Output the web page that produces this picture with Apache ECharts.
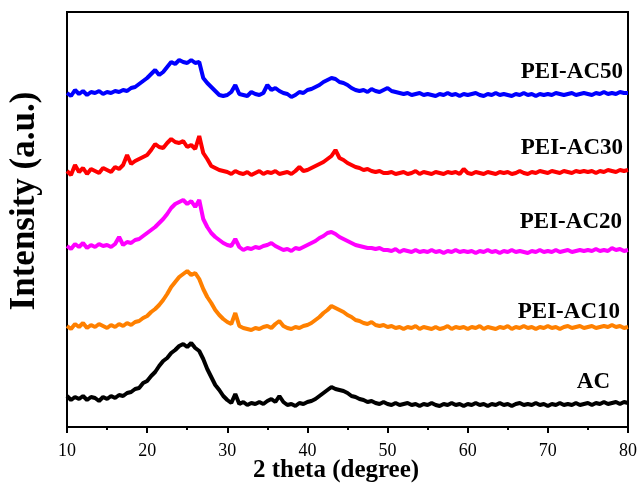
<!DOCTYPE html>
<html>
<head>
<meta charset="utf-8">
<script src="https://cdn.jsdelivr.net/npm/echarts@6/dist/echarts.min.js"></script>
<style>html,body{margin:0;padding:0;background:#fff}#c{width:640px;height:486px}</style>
</head>
<body>
<div id="c"></div>
<script>
// 2-theta sampling: start, step (degrees)
var thetaStart = 10, thetaStep = 0.5;
var xTicks = [10, 20, 30, 40, 50, 60, 70, 80];
var seriesNames = ['AC', 'PEI-AC10', 'PEI-AC20', 'PEI-AC30', 'PEI-AC50'];

var AC = [
 31,27,30,28,31,27,30,29,26,30,
 28,31,29,32,31,34,35,38,39,44,
 46,51,55,61,66,69,74,77,81,83,
 80,84,79,76,68,58,50,42,37,31,
 27,24,33,23,25,22,24,23,25,23,
 26,28,25,31,25,22,23,21,24,23,
 25,26,28,31,34,37,40,38,37,36,
 34,31,30,28,27,25,26,24,23,25,
 23,22,24,22,23,24,22,23,21,23,
 22,24,22,21,23,22,24,22,23,21,
 23,22,24,22,23,21,23,22,24,22,
 23,21,23,24,22,23,22,24,22,23,
 21,23,22,24,22,23,22,24,22,23,
 24,22,24,23,25,23,24,25,23,25,
 24];
var PEI_AC10 = [
 101,98,103,100,104,99,102,100,103,101,
 99,102,100,103,101,104,102,105,106,109,
 111,115,118,122,127,133,140,145,150,153,
 156,152,154,148,138,130,124,117,112,108,
 105,103,114,101,99,98,97,99,98,100,
 101,99,103,106,101,99,98,100,99,101,
 102,104,107,110,114,117,121,119,117,115,
 112,110,107,106,104,103,105,102,101,102,
 100,101,99,100,98,100,99,101,98,100,
 99,98,100,98,99,101,98,100,99,100,
 98,100,99,101,98,100,99,98,100,99,
 101,98,100,99,101,99,100,98,100,99,
 101,99,100,98,100,101,99,100,101,99,
 100,101,99,100,101,100,102,100,101,99,
 100];
var PEI_AC20 = [
 181,178,183,180,184,179,182,180,183,181,
 182,180,183,190,182,185,184,187,188,191,
 194,197,200,204,208,213,219,223,225,227,
 223,226,220,227,208,200,194,190,187,184,
 182,181,188,180,177,179,178,180,179,181,
 182,184,181,179,177,178,176,179,178,180,
 182,184,186,189,191,194,195,193,190,188,
 186,184,182,181,180,179,179,178,179,177,
 177,176,178,175,177,176,175,177,175,176,
 175,177,175,176,174,176,175,177,175,176,
 175,176,174,176,175,177,175,176,174,176,
 175,177,175,176,175,174,176,175,177,175,
 176,175,177,175,176,177,175,176,177,176,
 177,176,178,176,177,176,179,177,178,176,
 177];
var PEI_AC30 = [
 256,252,262,255,259,253,258,256,254,259,
 257,255,260,258,262,272,263,266,268,270,
 272,277,283,280,279,284,288,285,284,286,
 280,282,278,291,274,268,261,259,257,256,
 255,253,256,254,253,255,252,254,256,253,
 255,254,256,253,254,255,253,256,260,256,
 257,259,261,263,265,268,271,277,269,267,
 264,262,260,259,257,258,256,255,256,254,
 254,255,253,254,255,253,254,256,253,255,
 254,253,255,254,253,255,254,255,253,258,
 254,253,255,254,253,255,254,253,255,254,
 255,253,254,256,254,253,255,254,256,255,
 254,256,255,254,256,255,254,256,255,256,
 255,256,254,256,255,257,256,255,257,256,
 257];
var PEI_AC50 = [
 334,331,337,333,336,332,335,334,336,333,
 335,334,336,335,337,336,339,340,343,346,
 349,353,357,352,355,360,365,363,367,365,
 364,367,364,365,349,344,340,336,332,331,
 332,335,342,333,332,331,335,333,332,334,
 342,337,339,336,334,333,330,332,335,334,
 337,338,340,342,345,347,349,348,345,344,
 342,339,337,336,337,335,338,336,335,337,
 339,336,335,334,333,334,332,333,334,332,
 333,332,331,333,332,334,332,333,331,333,
 332,333,334,332,331,333,332,334,332,333,
 332,331,333,332,334,332,333,331,333,332,
 333,332,334,333,332,333,334,332,333,334,
 333,332,334,333,335,333,334,333,335,334,
 334];

var seriesData = [AC, PEI_AC10, PEI_AC20, PEI_AC30, PEI_AC50];
var colors = ['#000000', '#FF8000', '#FF00FF', '#FF0000', '#0000FF'];

function pairs(arr) {
  return arr.map(function (v, i) { return [thetaStart + i * thetaStep, v]; });
}

var serif = '"Liberation Serif", "Times New Roman", Times, serif';
var chart = echarts.init(document.getElementById('c'), null, {renderer: 'canvas'});

var labelPos = [
  {x: 610, y: 382}, {x: 620, y: 312}, {x: 622, y: 222}, {x: 623, y: 148}, {x: 623, y: 72}
];

var option = {
  animation: false,
  backgroundColor: '#fff',
  grid: {left: 67, right: 12, top: 12, bottom: 59, show: true, borderColor: '#000', borderWidth: 2, backgroundColor: 'transparent'},
  xAxis: {
    type: 'value', min: xTicks[0], max: xTicks[xTicks.length - 1], interval: 10,
    axisLine: {show: true, lineStyle: {color: '#000', width: 2}},
    axisTick: {show: true, inside: false, length: 6, lineStyle: {color: '#000', width: 2}},
    minorTick: {show: true, splitNumber: 2, length: 3, lineStyle: {color: '#000', width: 2}},
    splitLine: {show: false},
    axisLabel: {color: '#000', fontFamily: serif, fontSize: 18, margin: 15}
  },
  yAxis: {
    type: 'value', min: 0, max: 415,
    axisLine: {show: true, lineStyle: {color: '#000', width: 2}},
    axisTick: {show: false}, axisLabel: {show: false}, splitLine: {show: false}
  },
  series: seriesData.map(function (d, i) {
    return {
      name: seriesNames[i], type: 'line', data: pairs(d), showSymbol: false,
      lineStyle: {color: colors[i], width: 4}, z: 2 + i
    };
  }),
  graphic: [
    {type: 'text', left: 338 - 85, top: 458, style: {text: '2 theta (degree)', font: 'bold 25px ' + serif, fill: '#000'}},
    {type: 'text', x: 25, y: 201, rotation: Math.PI / 2, style: {text: 'Intensity (a.u.)', font: 'bold 35px ' + serif, fill: '#000', align: 'center', verticalAlign: 'middle'}}
  ].concat(seriesNames.map(function (n, i) {
    return {type: 'text', x: labelPos[i].x, y: labelPos[i].y, style: {text: n, font: 'bold 23px ' + serif, fill: '#000', align: 'right', verticalAlign: 'middle'}};
  }))
};
chart.setOption(option);
</script>
</body>
</html>
